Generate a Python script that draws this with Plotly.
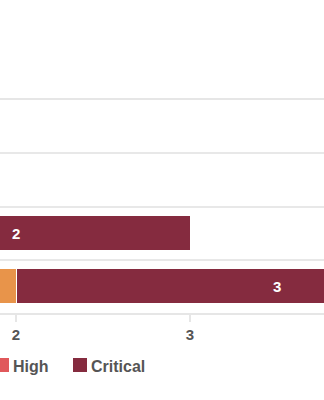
import plotly.graph_objects as go

# ---- data ----
categories = ["Asset A", "Asset B", "Asset C", "Asset D"]
severity_names = ["Low", "Medium", "High", "Critical"]
low_vals = [0, 0, 0, 0]
medium_vals = [1, 0, 0, 2]
high_vals = [0, 1, 1, 0]
critical_vals = [0, 0, 2, 3]
x_tick_vals = [2, 3]

series = [low_vals, medium_vals, high_vals, critical_vals]
colors = ["#F2C14E", "#E8944A", "#E0585B", "#852B3F"]

fig = go.Figure()
for name, vals, col in zip(severity_names, series, colors):
    fig.add_trace(go.Bar(
        y=categories, x=vals, name=name, orientation="h",
        marker=dict(color=col, line=dict(color="white", width=1)),
        showlegend=False, hoverinfo="skip",
    ))

# value labels centred in each segment (computed from the data)
annotations = []
cum = [0] * len(categories)
for vals in series:
    for i, v in enumerate(vals):
        if v > 0:
            annotations.append(dict(
                x=cum[i] + v / 2, y=categories[i], xref="x", yref="y",
                text=str(v), showarrow=False,
                font=dict(family="Liberation Sans", size=15, color="white", weight="bold"),
            ))
        cum[i] += v

# legend (manual, chart is cropped on the left)
W, H = 324, 400
top, bottom = 100, 313
def px_x(p):
    return p / W
def px_y(p):
    return (bottom - p) / (bottom - top)

legend_items = [("High", colors[2], -5), ("Critical", colors[3], 73)]
shapes = []
for label, col, x0 in legend_items:
    shapes.append(dict(type="rect", xref="paper", yref="paper",
                       x0=px_x(x0), x1=px_x(x0 + 14), y0=px_y(372), y1=px_y(358),
                       fillcolor=col, line=dict(width=0)))
    annotations.append(dict(x=px_x(x0 + 16), y=px_y(366), xref="paper", yref="paper",
                            xanchor="left", yanchor="middle", text=label, showarrow=False,
                            font=dict(family="Liberation Sans", size=16, color="#555555", weight="bold")))

ppu = 174.0
x_start = 2 - 16 / ppu
x_end = x_start + W / ppu

fig.update_layout(
    width=W, height=H, barmode="stack", bargap=0.34,
    margin=dict(l=0, r=0, t=top, b=H - bottom),
    plot_bgcolor="white", paper_bgcolor="white",
    annotations=annotations, shapes=shapes,
    xaxis=dict(range=[x_start, x_end], tickvals=x_tick_vals, showgrid=False,
               zeroline=False, showline=True, mirror=True, linecolor="#e6e6e6", linewidth=2,
               ticks="outside", ticklen=7, tickcolor="#e6e6e6", tickwidth=2,
               tickfont=dict(family="Liberation Sans", size=15, color="#555555", weight="bold"),
               automargin=False),
    yaxis=dict(type="category", autorange="reversed", tickson="boundaries",
               showgrid=True, gridcolor="#e8e8e8", gridwidth=2,
               showticklabels=False, ticks="", zeroline=False, showline=False,
               automargin=False),
)

fig.write_html("out.html")
